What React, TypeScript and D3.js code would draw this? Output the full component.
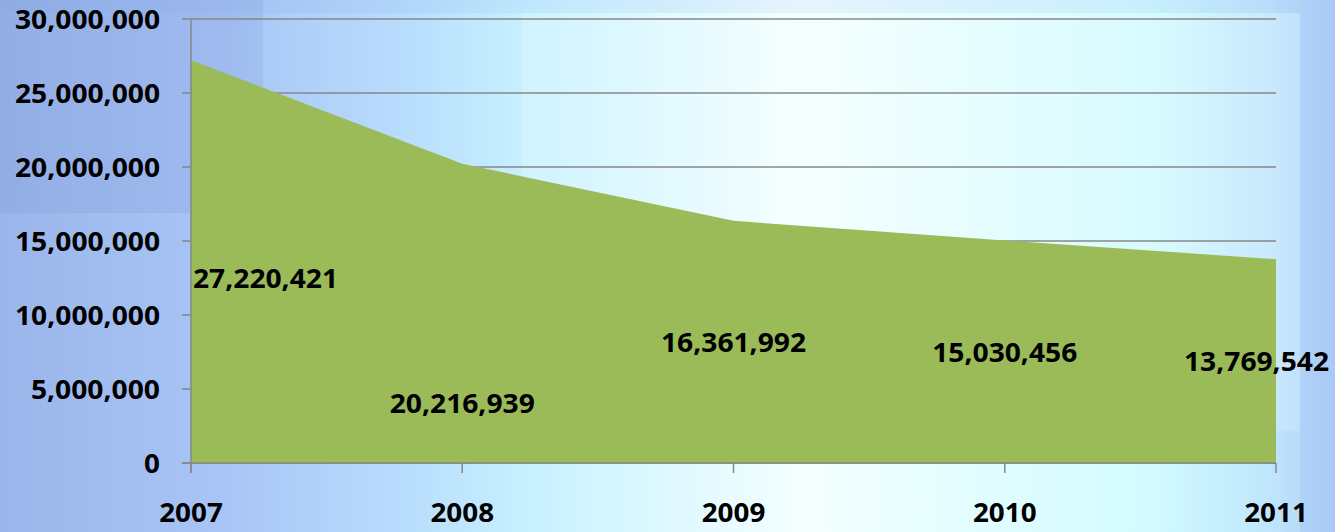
import * as d3 from "d3";

const years = ["2007", "2008", "2009", "2010", "2011"];
const values = [27220421, 20216939, 16361992, 15030456, 13769542];
// where each data label sits, as a share of its value (first two were moved by hand)
const labelShare = [0.46, 0.2, 0.5, 0.5, 0.5];
const yTickValues = [0, 5000000, 10000000, 15000000, 20000000, 25000000, 30000000];

const W = 1335;
const H = 532;
const MARGIN = { top: 19, right: 59, bottom: 68, left: 191 };
const FONT = "'Open Sans', 'Liberation Sans', sans-serif";
const FONT_SIZE = 26;
const GREEN = "#9bbb59";
const GRID = "#878787";

const fmt = d3.format(",");

// Open Sans digits are narrower than the original font, stretch to match
function labelWidth(s: string) {
  const digits = s.replace(/,/g, "").length;
  const commas = s.length - digits;
  return digits * 15.9 + commas * 8.9;
}

export default function App() {
  const x = d3
    .scalePoint<string>()
    .domain(years)
    .range([MARGIN.left, W - MARGIN.right]);
  const y = d3
    .scaleLinear()
    .domain([0, 30000000])
    .range([H - MARGIN.bottom - 1, MARGIN.top]);

  const rows = years.map((yr, i) => ({ yr, v: values[i] }));
  const area = d3
    .area<{ yr: string; v: number }>()
    .x((d) => x(d.yr) ?? 0)
    .y0(y(0))
    .y1((d) => y(d.v));

  const x0 = MARGIN.left;
  const x1 = W - MARGIN.right;

  const textProps = {
    dominantBaseline: "central" as const,
    fontFamily: FONT,
    fontWeight: 700,
    fontSize: FONT_SIZE,
    lengthAdjust: "spacingAndGlyphs" as const,
    fill: "#000",
  };

  return (
    <svg
      width={W}
      height={H}
      viewBox={`0 0 ${W} ${H}`}
      style={{ position: "absolute", left: 0, top: 0 }}
    >
      <defs>
        <linearGradient id="bg" x1="0" x2="1" y1="0" y2="0">
          <stop offset="0" stopColor="#9bb5ea" />
          <stop offset="0.17" stopColor="#a9c5f6" />
          <stop offset="0.3" stopColor="#b8dcfd" />
          <stop offset="0.4" stopColor="#c8f2ff" />
          <stop offset="0.6" stopColor="#f4ffff" />
          <stop offset="0.86" stopColor="#d2fbff" />
          <stop offset="0.95" stopColor="#c0e6fd" />
          <stop offset="1" stopColor="#afcff8" />
        </linearGradient>
      </defs>
      <rect x={0} y={0} width={W} height={H} fill="url(#bg)" />
      <rect x={0} y={0} width={263} height={213} fill="#5a78c0" opacity={0.13} />
      <rect x={0} y={0} width={1300} height={13} fill="#7fa6e8" opacity={0.12} />
      <rect x={522} y={13} width={778} height={418} fill="#ffffff" opacity={0.15} />
      <rect x={1300} y={0} width={35} height={H} fill="#90b4f0" opacity={0.22} />

      {/* gridlines + y ticks */}
      {yTickValues.map((t) => (
        <line
          key={t}
          x1={x0 - 9}
          x2={x1}
          y1={y(t)}
          y2={y(t)}
          stroke={GRID}
          strokeWidth={1.5}
        />
      ))}

      <path d={area(rows) ?? undefined} fill={GREEN} />

      {/* axes */}
      <line x1={x0} x2={x0} y1={y(30000000)} y2={y(0) + 10} stroke={GRID} strokeWidth={1.5} />
      <line x1={x0 - 9} x2={x1} y1={y(0)} y2={y(0)} stroke={GRID} strokeWidth={1.5} />
      {years.map((yr) => (
        <line
          key={yr}
          x1={x(yr)}
          x2={x(yr)}
          y1={y(0)}
          y2={y(0) + 10}
          stroke={GRID}
          strokeWidth={1.5}
        />
      ))}

      {yTickValues.map((t) => {
        const s = fmt(t);
        return (
          <text key={t} x={160} y={y(t)} textAnchor="end" textLength={labelWidth(s)} {...textProps}>
            {s}
          </text>
        );
      })}

      {years.map((yr) => (
        <text key={yr} x={x(yr)} y={512} textAnchor="middle" textLength={labelWidth(yr)} {...textProps}>
          {yr}
        </text>
      ))}

      {rows.map((d, i) => {
        const s = fmt(d.v);
        const w = labelWidth(s);
        const cx = Math.min(Math.max(x(d.yr) ?? 0, x0 + 2 + w / 2), W - 6 - w / 2);
        return (
          <text
            key={d.yr}
            x={cx}
            y={y(d.v * labelShare[i])}
            textAnchor="middle"
            textLength={w}
            {...textProps}
          >
            {s}
          </text>
        );
      })}
    </svg>
  );
}
